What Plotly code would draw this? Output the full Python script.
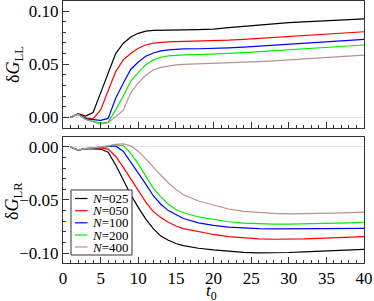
import plotly.graph_objects as go

# ---- data ----
t0 = [1, 2, 3, 4, 5, 6, 7, 8, 9, 10, 11, 12, 13, 14, 15, 16,
      18, 20, 22, 24, 26, 28, 30, 32, 34, 36, 38, 40]

labels = ["025", "050", "100", "200", "400"]
colors = ["#000000", "#ff0000", "#0000ff", "#00ee00", "#bc8f8f"]

gll_025 = [0, 0.0035, 0.0012, 0.0045, 0.023, 0.042, 0.060, 0.0695, 0.0755, 0.079, 0.081, 0.0818, 0.0821, 0.0822, 0.0822, 0.0823,
           0.0825, 0.083, 0.0843, 0.0857, 0.0868, 0.0879, 0.0890, 0.0898, 0.0905, 0.0911, 0.0918, 0.0925]
gll_050 = [0, 0.003, -0.0005, -0.0015, 0.007, 0.025, 0.043, 0.054, 0.060, 0.065, 0.068, 0.0697, 0.0706, 0.071, 0.0712, 0.0713,
           0.0715, 0.0719, 0.0726, 0.0734, 0.0743, 0.0752, 0.0762, 0.0772, 0.0781, 0.0789, 0.0797, 0.0805]
gll_100 = [0, 0.003, -0.0015, -0.002, -0.0028, -0.001, 0.018, 0.032, 0.045, 0.052, 0.0575, 0.0605, 0.0625, 0.0635, 0.064, 0.0643,
           0.0645, 0.0648, 0.0654, 0.0661, 0.0669, 0.0678, 0.0688, 0.0697, 0.0706, 0.0714, 0.0723, 0.0733]
gll_200 = [0, 0.003, -0.002, -0.0035, -0.0055, -0.0045, 0.007, 0.020, 0.034, 0.042, 0.0495, 0.054, 0.0565, 0.0578, 0.0584, 0.0587,
           0.059, 0.0594, 0.0601, 0.0609, 0.0618, 0.0627, 0.0636, 0.0645, 0.0654, 0.0662, 0.0671, 0.068]
gll_400 = [0, 0.003, -0.002, -0.004, -0.0065, -0.005, 0.0005, 0.0065, 0.023, 0.0325, 0.0395, 0.0445, 0.047, 0.0485, 0.0493, 0.0498,
           0.0502, 0.0505, 0.051, 0.0517, 0.0524, 0.0531, 0.0539, 0.0547, 0.0555, 0.0564, 0.0574, 0.0585]

glr_025 = [0, -0.003, -0.0015, -0.0015, -0.002, -0.005, -0.017, -0.031, -0.045, -0.057, -0.068, -0.077, -0.084, -0.088, -0.091, -0.093,
           -0.0955, -0.097, -0.0985, -0.0993, -0.0998, -0.0998, -0.0995, -0.099, -0.0983, -0.0977, -0.0971, -0.0965]
glr_050 = [0, -0.003, -0.0015, -0.0012, -0.001, -0.002, -0.009, -0.019, -0.030, -0.041, -0.052, -0.061, -0.0665, -0.071, -0.0745, -0.077,
           -0.080, -0.0825, -0.0845, -0.0858, -0.0866, -0.087, -0.087, -0.0867, -0.0862, -0.0857, -0.0851, -0.0845]
glr_100 = [0, -0.003, -0.0015, -0.001, -0.0005, 0.0005, 0.001, -0.004, -0.014, -0.025, -0.035, -0.046, -0.054, -0.060, -0.064, -0.0675,
           -0.0715, -0.074, -0.0756, -0.0765, -0.077, -0.0772, -0.0772, -0.0771, -0.077, -0.0769, -0.0768, -0.0767]
glr_200 = [0, -0.003, -0.0015, -0.001, -0.0003, 0.001, 0.002, 0.0015, -0.006, -0.016, -0.028, -0.039, -0.047, -0.054, -0.059, -0.062,
           -0.066, -0.0685, -0.0705, -0.0718, -0.0725, -0.0728, -0.0728, -0.0726, -0.0723, -0.0719, -0.0715, -0.071]
glr_400 = [0, -0.003, -0.0015, -0.001, 0, 0.001, 0.0025, 0.003, 0.001, -0.004, -0.011, -0.019, -0.027, -0.034, -0.040, -0.045,
           -0.051, -0.055, -0.0585, -0.0607, -0.062, -0.0627, -0.063, -0.063, -0.0627, -0.0623, -0.0619, -0.0615]

gll = [gll_025, gll_050, gll_100, gll_200, gll_400]
glr = [glr_025, glr_050, glr_100, glr_200, glr_400]

x_ticks = [0, 5, 10, 15, 20, 25, 30, 35, 40]

# ---- figure ----
FONT = "Liberation Serif, Times New Roman, serif"
W, H = 374, 301
ML, MR, MT, MB = 63, 10, 1, 38
PW, PH = W - ML - MR, H - MT - MB

fig = go.Figure()
for lab, col, yll, ylr in zip(labels, colors, gll, glr):
    fig.add_trace(go.Scatter(x=t0, y=yll, mode="lines", line=dict(color=col, width=1.2),
                             xaxis="x", yaxis="y", showlegend=False, name="N=" + lab))
    fig.add_trace(go.Scatter(x=t0, y=ylr, mode="lines", line=dict(color=col, width=1.2),
                             xaxis="x2", yaxis="y2", showlegend=False, name="N=" + lab))

def px2paper_x(px):
    return (px - ML) / PW

def px2paper_y(py):
    return (H - MB - py) / PH

axis_common = dict(showline=True, linecolor="#333333", linewidth=1, mirror=True,
                   ticks="inside", tickcolor="#333333", ticklen=6, showgrid=False,
                   tickfont=dict(family=FONT, size=17, color="black"))

xaxis_common = dict(axis_common, range=[0, 40], tickvals=x_ticks, zeroline=False,
                    minor=dict(dtick=1, ticks="inside", ticklen=3, tickcolor="#333333"))

yaxis_common = dict(axis_common, dtick=0.05, tickformat=".2f", zeroline=True,
                    zerolinecolor="#e4e4e4", zerolinewidth=1,
                    minor=dict(dtick=0.01, ticks="inside", ticklen=3, tickcolor="#333333"))

fig.update_layout(
    width=W, height=H,
    margin=dict(l=ML, r=MR, t=MT, b=MB),
    paper_bgcolor="white", plot_bgcolor="white",
    font=dict(family=FONT, size=17, color="black"),
    xaxis=dict(xaxis_common, anchor="y", showticklabels=False),
    yaxis=dict(yaxis_common, domain=[0.515, 1.0], range=[-0.0101, 0.1094], anchor="x"),
    xaxis2=dict(xaxis_common, anchor="y2", showticklabels=True),
    yaxis2=dict(yaxis_common, domain=[0.0, 0.481], range=[-0.1094, 0.0094], anchor="x2"),
)

annotations = [
    dict(text="δ<i>G</i><sub>LL</sub>", textangle=-90,
         x=px2paper_x(14), y=px2paper_y(65), xref="paper", yref="paper",
         showarrow=False, xanchor="center", yanchor="middle",
         font=dict(family=FONT, size=18, color="black")),
    dict(text="δ<i>G</i><sub>LR</sub>", textangle=-90,
         x=px2paper_x(14), y=px2paper_y(201), xref="paper", yref="paper",
         showarrow=False, xanchor="center", yanchor="middle",
         font=dict(family=FONT, size=18, color="black")),
    dict(text="<i>t</i><sub>0</sub>",
         x=px2paper_x(211), y=px2paper_y(292), xref="paper", yref="paper",
         showarrow=False, xanchor="center", yanchor="middle",
         font=dict(family=FONT, size=17, color="black")),
]

# legend (drawn by hand to match the compact row spacing)
shapes = [dict(type="rect", xref="paper", yref="paper",
               x0=px2paper_x(71), x1=px2paper_x(132), y0=px2paper_y(255), y1=px2paper_y(190),
               line=dict(color="#333333", width=1), fillcolor="white", layer="above")]
row_y = [198.5, 210.7, 222.8, 235.0, 247.0]
for lab, col, ry in zip(labels, colors, row_y):
    shapes.append(dict(type="line", xref="paper", yref="paper",
                       x0=px2paper_x(75), x1=px2paper_x(87.5), y0=px2paper_y(ry), y1=px2paper_y(ry),
                       line=dict(color=col, width=1.2), layer="above"))
    annotations.append(dict(text="<i>N</i>=" + lab, x=px2paper_x(90.5), y=px2paper_y(ry),
                            xref="paper", yref="paper", showarrow=False,
                            xanchor="left", yanchor="middle", height=11, borderpad=0,
                            font=dict(family=FONT, size=13, color="black")))

fig.update_layout(annotations=annotations, shapes=shapes)
fig.write_html("out.html", config={"displayModeBar": False},
               post_script="document.body.style.margin='0px';document.body.style.overflow='hidden';")
